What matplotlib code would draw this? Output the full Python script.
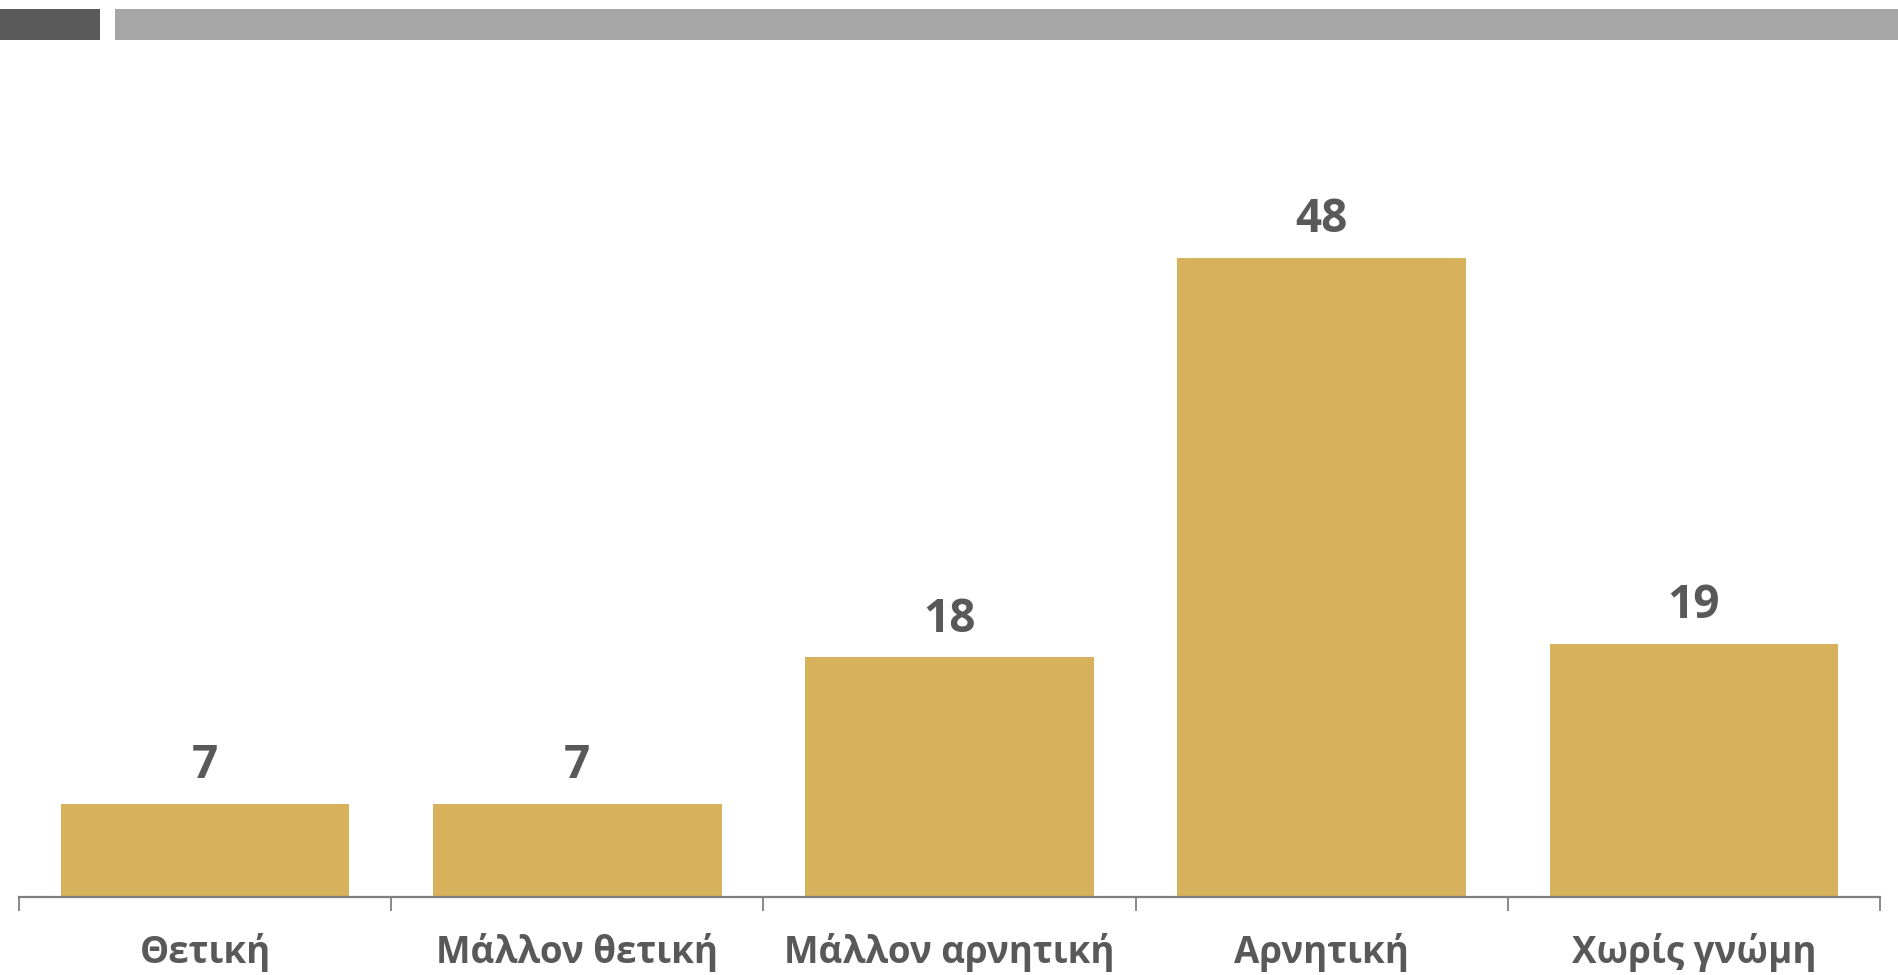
import matplotlib
matplotlib.use("Agg")
import matplotlib.pyplot as plt
from matplotlib.patches import Rectangle
from matplotlib.ticker import FixedLocator

categories = ["Θετική", "Μάλλον θετική", "Μάλλον αρνητική", "Αρνητική", "Χωρίς γνώμη"]
values = [7, 7, 18, 48, 19]

BAR = "#D8B15D"
TEXT = "#595959"
AXIS = "#808080"
FONT = ["Open Sans", "DejaVu Sans"]

fig = plt.figure(figsize=(18.98, 9.75), dpi=100)
ax = fig.add_axes([19/1898, 78/975, (1880-19)/1898, (897-98.4)/975])

x = list(range(len(categories)))
ax.bar(x, values, width=0.775, color=BAR, zorder=2)
ax.set_xlim(-0.5, len(categories) - 0.5)
ax.set_ylim(0, 60)

for xi, v in zip(x, values):
    ax.annotate(str(v), (xi, v), xytext=(0, 18.5), textcoords="offset points",
                ha="center", va="baseline", fontsize=33, fontweight="bold",
                color=TEXT, family=FONT)

for s in ["top", "right", "left"]:
    ax.spines[s].set_visible(False)
ax.spines["bottom"].set_color(AXIS)
ax.spines["bottom"].set_linewidth(1.6)
ax.set_yticks([])
ax.set_xticks(x)
ax.set_xticklabels(categories, fontsize=26.5, fontweight="bold", color=TEXT, family=FONT)
ax.tick_params(axis="x", which="major", length=0, pad=26)
ax.xaxis.set_minor_locator(FixedLocator([i - 0.5 for i in range(len(categories) + 1)]))
ax.tick_params(axis="x", which="minor", length=10, width=1.3, color=AXIS, direction="out")

fig.add_artist(Rectangle((0, 935/975), 100/1898, 31/975, transform=fig.transFigure,
                         color="#595959", lw=0))
fig.add_artist(Rectangle((115/1898, 935/975), 1 - 115/1898, 31/975, transform=fig.transFigure,
                         color="#A6A6A6", lw=0))

fig.savefig("out.png", dpi=100, facecolor="white")
